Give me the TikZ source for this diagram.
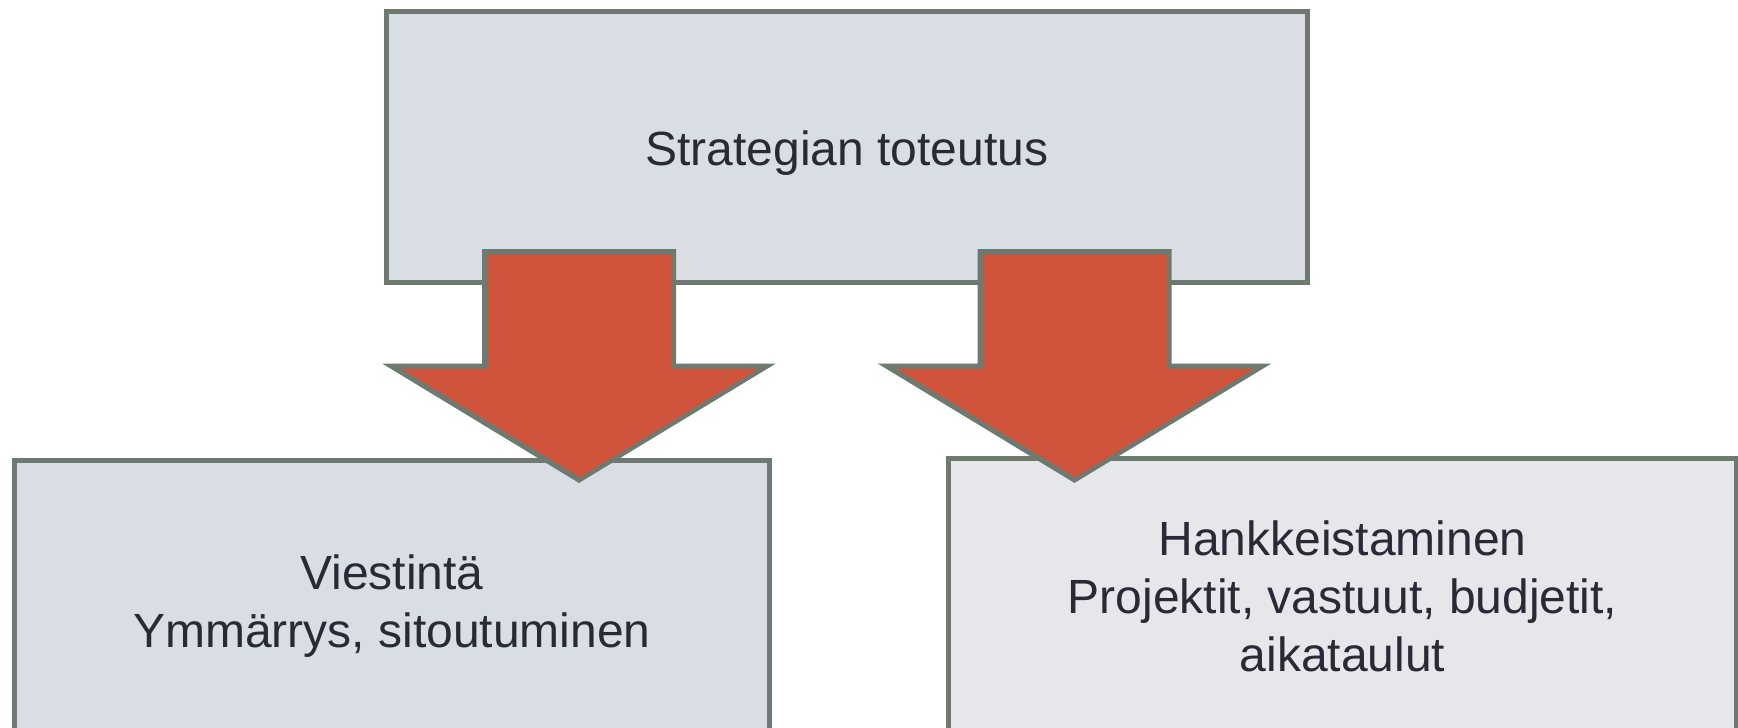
\documentclass[tikz,border=0pt]{standalone}
\usepackage{fontspec}
\setmainfont{Liberation Sans}
\usetikzlibrary{calc}
\definecolor{boxfill}{HTML}{D9DDE4}
\definecolor{boxfilllight}{HTML}{E6E7EB}
\definecolor{boxline}{HTML}{6E7A70}
\definecolor{arrowfill}{HTML}{D0533C}
\definecolor{txtcol}{HTML}{2A2A36}
\tikzset{
  box/.style={draw=boxline, line width=5pt, fill=boxfill, rectangle, inner sep=0pt,
    anchor=north west, align=center, text=txtcol, font=\fontsize{48}{58}\selectfont},
  blockarrow/.style={draw=boxline, line width=5pt, fill=arrowfill, line join=miter}
}
\begin{document}
\begin{tikzpicture}[x=1pt,y=-1pt]
\clip (0,0) rectangle (1738,728);
\fill[white] (0,0) rectangle (1738,728);
% top box
\node[box, minimum width=921pt, minimum height=271.5pt, text height=48pt, text depth=10pt] (top) at (384,8.5) {Strategian toteutus};
% bottom boxes
\node[box, minimum width=755pt, minimum height=300pt, text depth=18pt] (left) at (12,458) {Viestintä\\Ymmärrys, sitoutuminen};
\node[box, fill=boxfilllight, minimum width=788pt, minimum height=300pt, text depth=24pt] (right) at (946,456) {Hankkeistaminen\\Projektit, vastuut, budjetit,\\aikataulut};
% block arrows
\coordinate (lt) at (579,480);
\coordinate (rt) at (1074.5,480);
\draw[blockarrow] ($(lt)+(-94.5,-228.5)$) -- ($(lt)+(94.5,-228.5)$) -- ($(lt)+(94.5,-114)$) -- ($(lt)+(188,-114)$) -- (lt) -- ($(lt)+(-188,-114)$) -- ($(lt)+(-94.5,-114)$) -- cycle;
\draw[blockarrow] ($(rt)+(-94.5,-228.5)$) -- ($(rt)+(94.5,-228.5)$) -- ($(rt)+(94.5,-114)$) -- ($(rt)+(188,-114)$) -- (rt) -- ($(rt)+(-188,-114)$) -- ($(rt)+(-94.5,-114)$) -- cycle;
\end{tikzpicture}
\end{document}
